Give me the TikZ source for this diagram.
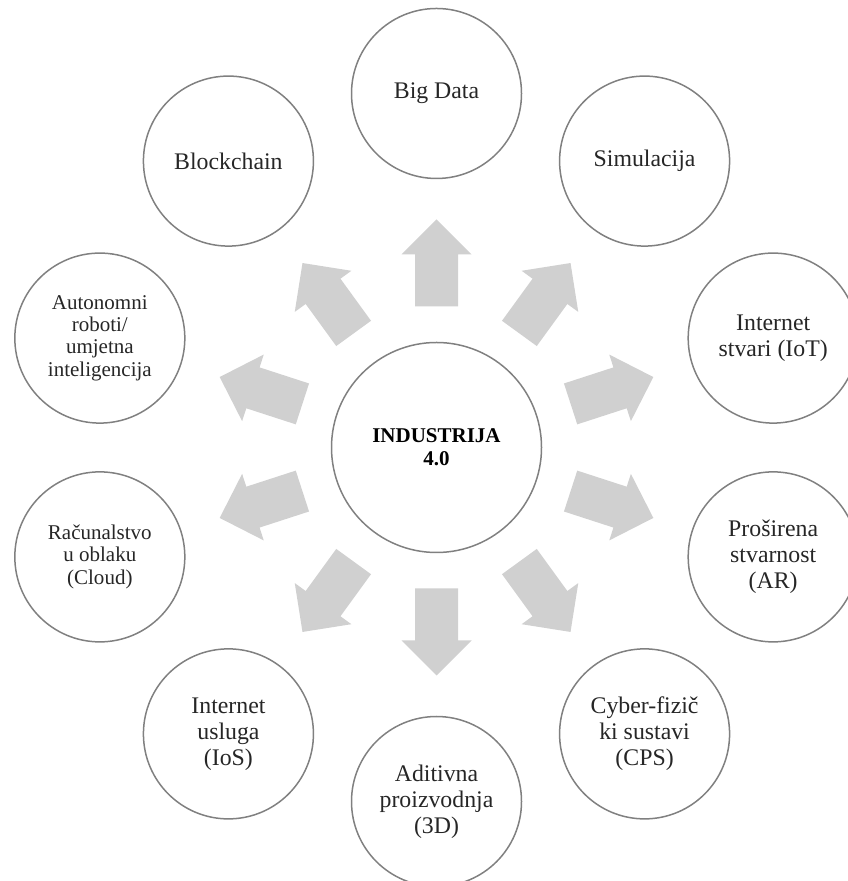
\documentclass[tikz,border=0pt]{standalone}
\usepackage{fontspec}
\setmainfont{Liberation Serif}
\definecolor{ringgray}{HTML}{808080}
\definecolor{arrowgray}{HTML}{D0D0D0}
\definecolor{txt}{HTML}{262626}
\begin{document}
\begin{tikzpicture}[x=0.5pt,y=0.5pt,
  bubble/.style={circle, draw=ringgray, line width=0.75pt, minimum size=85pt,
    inner sep=0pt, align=center, text=txt, font=\fontsize{11.9}{13}\selectfont},
  smalltext/.style={font=\fontsize{10.5}{11.1}\selectfont},
  hub/.style={circle, draw=ringgray, line width=0.75pt, minimum size=105pt,
    inner sep=0pt, align=center, text=black, font=\bfseries\fontsize{10.5}{11.7}\selectfont},
  blockarrow/.style={fill=arrowgray}]
\useasboundingbox (0,0) rectangle (847,881);
\coordinate (c) at (436.5,433.5);
% block arrows
\foreach \a in {90,54,18,-18,-54,-90,-126,-162,162,126}{
  \begin{scope}[shift={(c)}, rotate=\a]
    \fill[blockarrow] (141,-21.5) -- (193,-21.5) -- (193,-35) -- (228,0)
      -- (193,35) -- (193,21.5) -- (141,21.5) -- cycle;
  \end{scope}
}
\node[hub] (hub) at (c) {INDUSTRIJA\\4.0};
\node[bubble] (bigdata) at ([shift={(90:354)}]c) {Big Data};
\node[bubble] (sim) at ([shift={(54:354)}]c) {Simulacija};
\node[bubble] (iot) at ([shift={(18:354)}]c) {Internet\\stvari (IoT)};
\node[bubble] (ar) at ([shift={(-18:354)}]c) {Proširena\\stvarnost\\(AR)};
\node[bubble] (cps) at ([shift={(-54:354)}]c) {Cyber-fizič\\ki sustavi\\(CPS)};
\node[bubble] (add) at ([shift={(-90:354)}]c) {Aditivna\\proizvodnja\\(3D)};
\node[bubble] (ios) at ([shift={(-126:354)}]c) {Internet\\usluga\\(IoS)};
\node[bubble, smalltext] (cloud) at ([shift={(-162:354)}]c) {Računalstvo\\u oblaku\\(Cloud)};
\node[bubble, smalltext] (robots) at ([shift={(162:354)}]c) {Autonomni\\roboti/\\umjetna\\inteligencija};
\node[bubble] (block) at ([shift={(126:354)}]c) {Blockchain};
\end{tikzpicture}
\end{document}
